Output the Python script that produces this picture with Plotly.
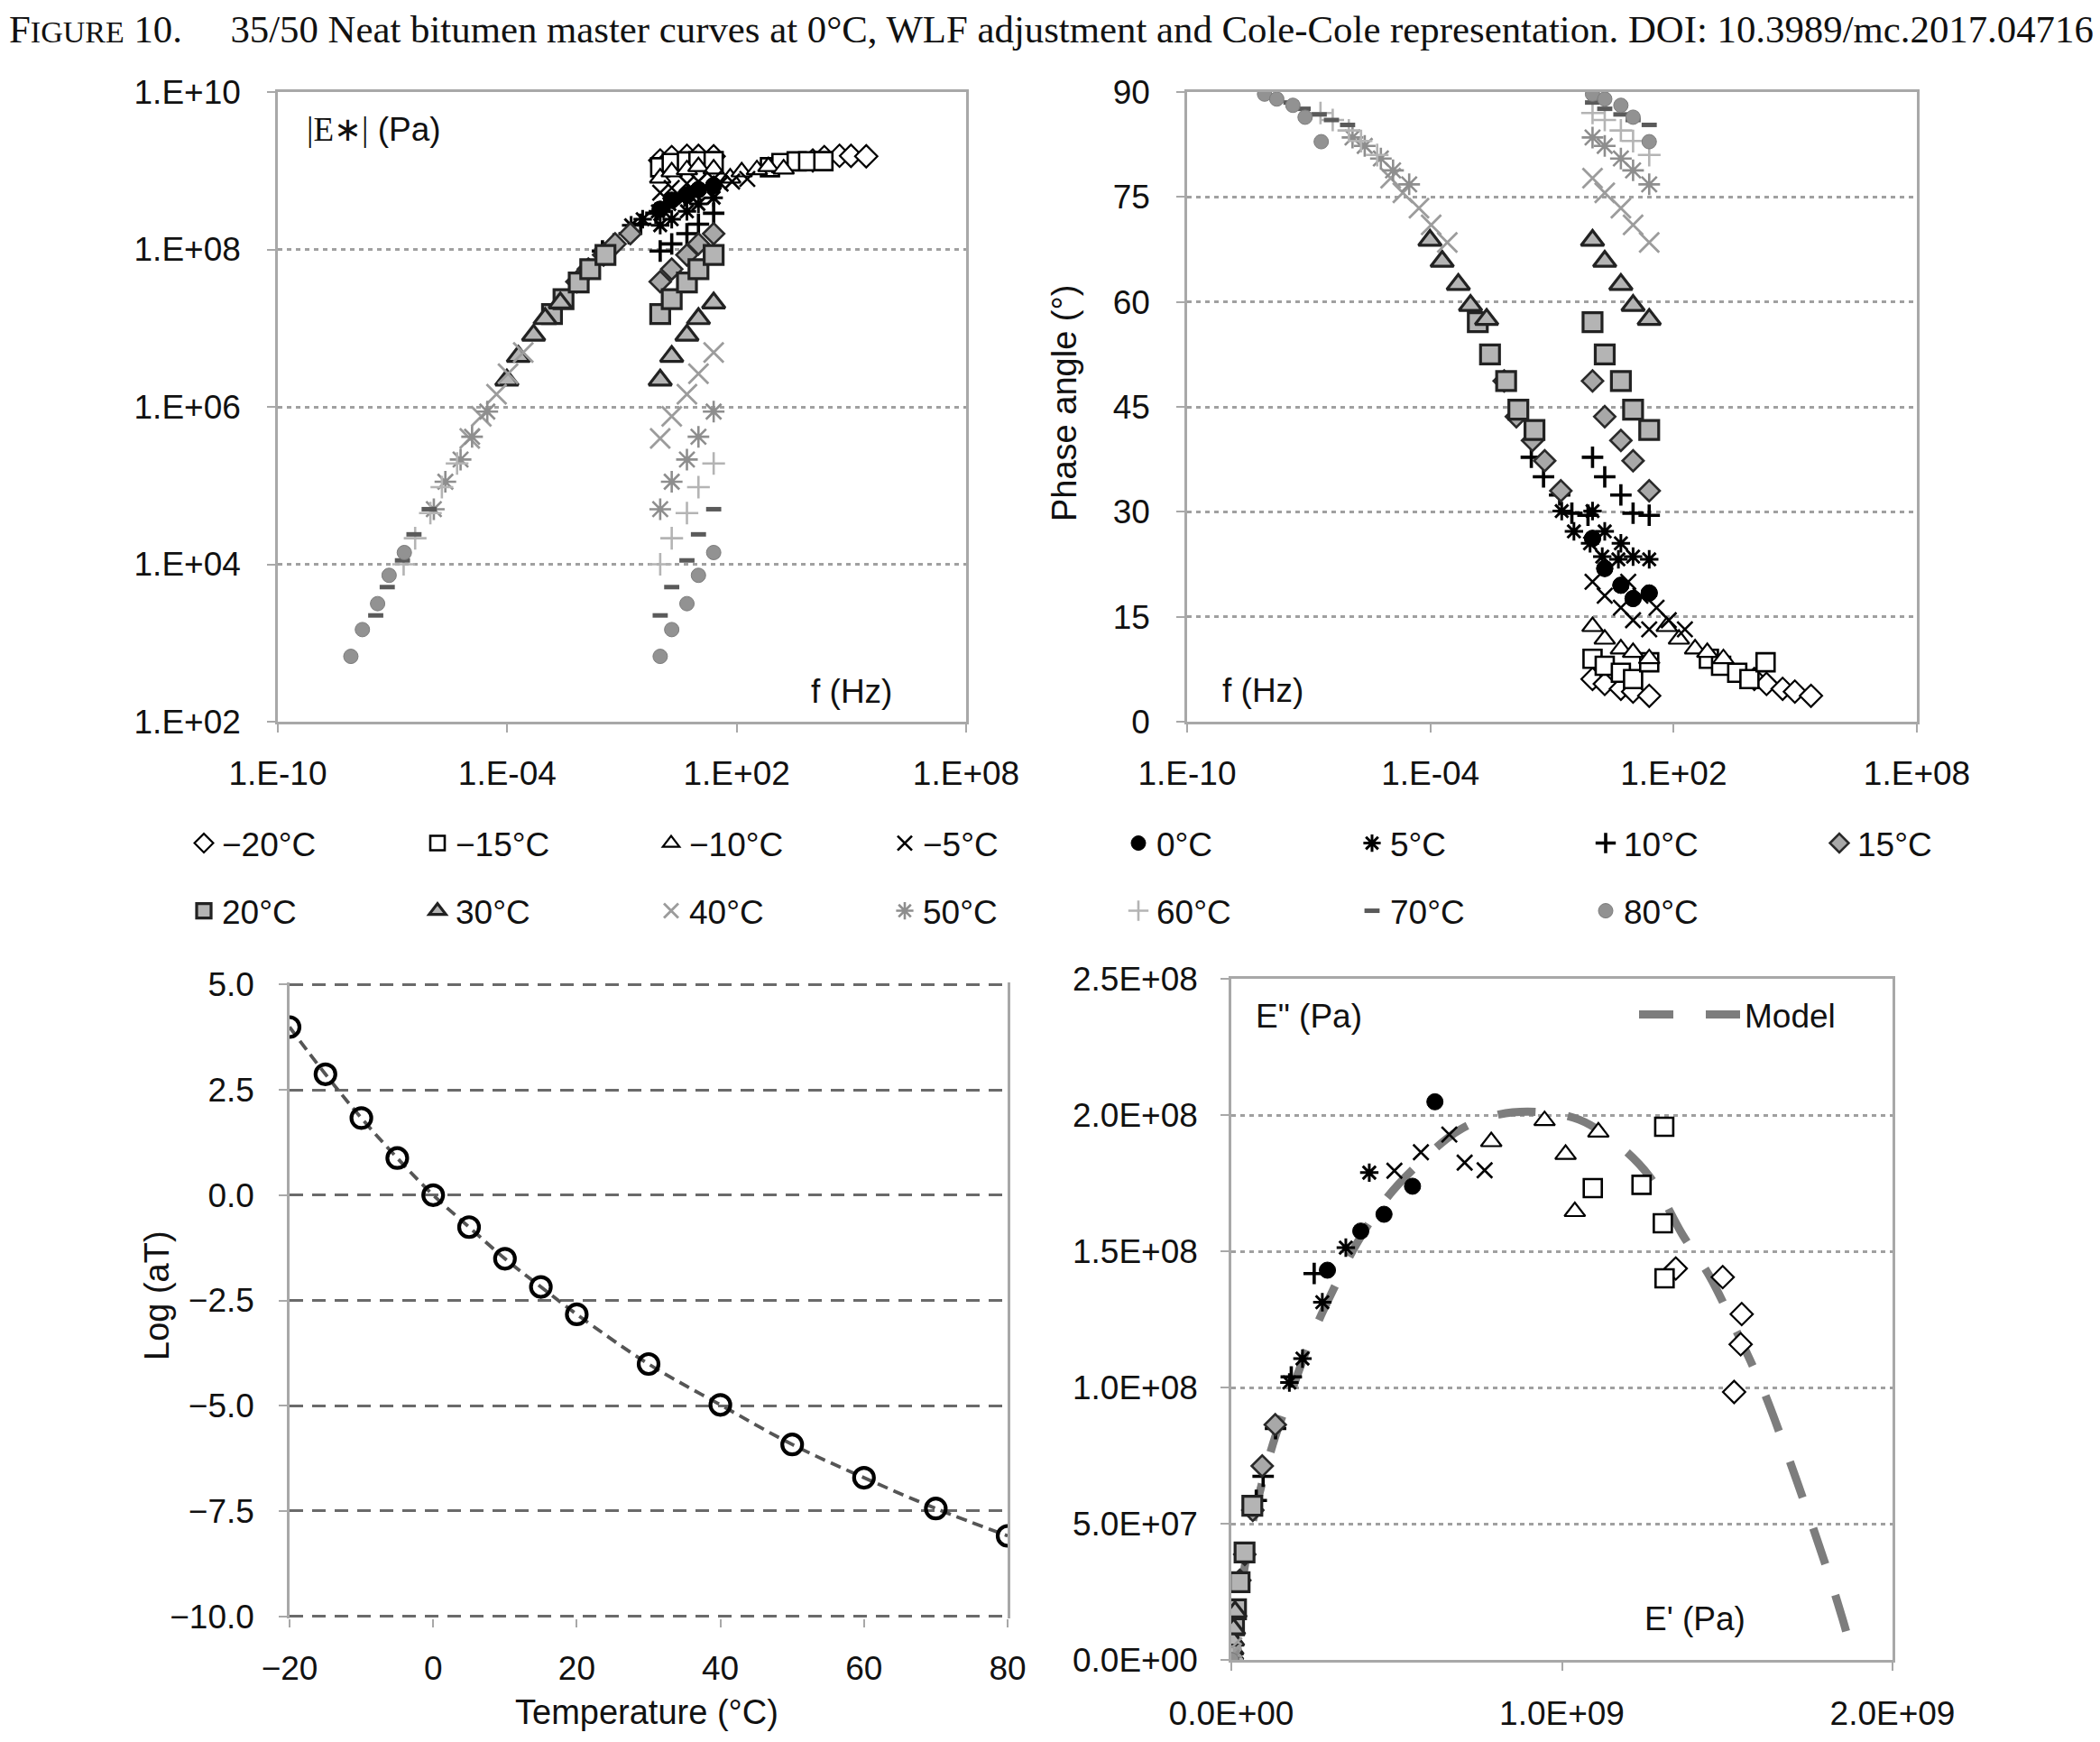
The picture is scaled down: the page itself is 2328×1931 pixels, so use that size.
import math
import plotly.graph_objects as go

# ---------------- data ----------------
temperatures_C = [-20, -15, -10, -5, 0, 5, 10, 15, 20, 30, 40, 50, 60, 70, 80]
legend_labels = ["−20°C", "−15°C", "−10°C", "−5°C", "0°C", "5°C", "10°C", "15°C",
                 "20°C", "30°C", "40°C", "50°C", "60°C", "70°C", "80°C"]
test_frequencies_hz = [1, 2, 5, 10, 25]

# WLF shift factors (log aT) at each temperature, reference 0°C
log_aT = [3.99, 2.87, 1.83, 0.88, 0.0, -0.76, -1.51, -2.18, -2.83,
          -4.01, -4.98, -5.92, -6.71, -7.44, -8.09]

# |E*| (Pa) at the test frequencies, one list per temperature
modulus_m20 = [1.352e9, 1.493e9, 1.549e9, 1.545e9, 1.524e9]
modulus_m15 = [1.107e9, 1.253e9, 1.315e9, 1.318e9, 1.324e9]
modulus_m10 = [8.09e8, 9.68e8, 1.028e9, 1.127e9, 1.052e9]
modulus_m05 = [5.25e8, 6.03e8, 6.87e8, 7.29e8, 7.87e8]
modulus_p00 = [3.24e8, 4.22e8, 4.90e8, 5.75e8, 6.49e8]
modulus_p05 = [2.03e8, 2.42e8, 3.05e8, 3.78e8, 4.54e8]
modulus_p10 = [9.55e7, 1.175e8, 1.585e8, 2.09e8, 2.88e8]
modulus_p15 = [3.89e7, 5.62e7, 8.51e7, 1.175e8, 1.585e8]
modulus_p20 = [1.51e7, 2.34e7, 3.80e7, 5.62e7, 8.51e7]
modulus_p30 = [2.19e6, 4.37e6, 8.13e6, 1.32e7, 2.09e7]
modulus_p40 = [3.98e5, 7.59e5, 1.45e6, 2.63e6, 4.90e6]
modulus_p50 = [5.01e4, 1.12e5, 2.14e5, 4.17e5, 8.71e5]
modulus_p60 = [1.00e4, 2.14e4, 4.47e4, 9.55e4, 1.91e5]
modulus_p70 = [2.24e3, 5.13e3, 1.12e4, 2.40e4, 5.01e4]
modulus_p80 = [676, 1.48e3, 3.16e3, 7.24e3, 1.41e4]

# phase angle (°) at the test frequencies, one list per temperature
phase_m20 = [6.1, 5.4, 4.7, 4.3, 3.7]
phase_m15 = [9.0, 8.0, 7.0, 6.1, 8.5]
phase_m10 = [13.6, 11.8, 10.4, 9.9, 9.0]
phase_m05 = [20.0, 18.0, 16.3, 14.5, 13.2]
phase_p00 = [26.2, 21.9, 19.5, 17.6, 18.4]
phase_p05 = [30.1, 27.2, 25.5, 23.6, 23.2]
phase_p10 = [37.8, 35.0, 32.4, 29.8, 29.5]
phase_p15 = [48.7, 43.6, 40.2, 37.3, 33.0]
phase_p20 = [57.1, 52.5, 48.7, 44.6, 41.7]
phase_p30 = [68.8, 65.8, 62.5, 59.5, 57.5]
phase_p40 = [77.7, 75.6, 73.4, 71.0, 68.5]
phase_p50 = [83.5, 82.3, 80.5, 78.8, 76.8]
phase_p60 = [87.0, 86.0, 84.5, 83.0, 81.0]
phase_p70 = [88.5, 87.6, 86.8, 86.0, 85.3]
phase_p80 = [89.7, 89.0, 88.1, 86.4, 82.9]

# Cole-Cole model curve (E' and E'' in Pa)
model_storage_pa = [0.004e9, 0.020e9, 0.040e9, 0.065e9, 0.125e9, 0.185e9, 0.246e9,
                    0.306e9, 0.377e9, 0.468e9, 0.569e9, 0.690e9, 0.810e9, 0.931e9,
                    1.052e9, 1.163e9, 1.264e9, 1.365e9, 1.446e9, 1.526e9, 1.607e9,
                    1.677e9, 1.748e9, 1.808e9, 1.849e9, 1.875e9]
model_loss_pa = [0.001e8, 0.169e8, 0.338e8, 0.508e8, 0.789e8, 0.996e8, 1.194e8,
                 1.353e8, 1.523e8, 1.692e8, 1.823e8, 1.945e8, 2.002e8, 2.011e8,
                 1.983e8, 1.898e8, 1.776e8, 1.560e8, 1.410e8, 1.212e8, 0.996e8,
                 0.771e8, 0.526e8, 0.310e8, 0.150e8, 0.038e8]

# tick labels
freq_tickvals = [1e-10, 1e-4, 1e2, 1e8]
freq_ticktext = ["1.E-10", "1.E-04", "1.E+02", "1.E+08"]
mod_tickvals = [1e2, 1e4, 1e6, 1e8, 1e10]
mod_ticktext = ["1.E+02", "1.E+04", "1.E+06", "1.E+08", "1.E+10"]
storage_tickvals = [0, 1e9, 2e9]
storage_ticktext = ["0.0E+00", "1.0E+09", "2.0E+09"]
loss_tickvals = [0, 5e7, 1e8, 1.5e8, 2e8, 2.5e8]
loss_ticktext = ["0.0E+00", "5.0E+07", "1.0E+08", "1.5E+08", "2.0E+08", "2.5E+08"]

modulus_sets = [modulus_m20, modulus_m15, modulus_m10, modulus_m05, modulus_p00,
                modulus_p05, modulus_p10, modulus_p15, modulus_p20, modulus_p30,
                modulus_p40, modulus_p50, modulus_p60, modulus_p70, modulus_p80]
phase_sets = [phase_m20, phase_m15, phase_m10, phase_m05, phase_p00,
              phase_p05, phase_p10, phase_p15, phase_p20, phase_p30,
              phase_p40, phase_p50, phase_p60, phase_p70, phase_p80]

# ---------------- styles ----------------
# (symbol, fill, line colour, line width, size)
styles = [
    ("diamond", "white", "black", 2.2, 19),
    ("square", "white", "black", 2.6, 20),
    ("triangle-up", "white", "black", 2.2, 20),
    ("x-thin", "black", "black", 2.6, 17),
    ("circle", "black", "black", 1, 18),
    ("asterisk", "black", "black", 3.0, 17),
    ("cross-thin", "black", "black", 3.6, 17),
    ("diamond", "#a8a8a8", "#2a2a2a", 2.6, 18),
    ("square", "#b4b4b4", "#222222", 3.2, 21),
    ("triangle-up", "#b4b4b4", "#222222", 3.2, 22),
    ("x-thin", "#9c9c9c", "#9c9c9c", 2.8, 22),
    ("asterisk", "#8e8e8e", "#8e8e8e", 2.6, 20),
    ("cross-thin", "#b4b4b4", "#b4b4b4", 2.6, 18),
    ("line-ew", "#5a5a5a", "#5a5a5a", 5, 12),
    ("circle", "#929292", "#7c7c7c", 1, 16),
]

# the page body has an 8 px margin; the figure fills the rest of the window
OFF = 8
W, H = 2328 - 2 * OFF, 1931 - 2 * OFF
FONT = "Liberation Sans, Arial, sans-serif"
SERIF = "Liberation Serif, Times New Roman, serif"
FRAME = "#a8a8a8"


def fx(p):
    return (p - OFF) / W


def fy(p):
    return 1 - (p - OFF) / H


def marker_of(i):
    sym, fill, lc, lw, size = styles[i]
    return dict(symbol=sym, color=fill, size=size, line=dict(color=lc, width=lw))


fig = go.Figure()

for i, T in enumerate(temperatures_C):
    shift = 10 ** log_aT[i]
    x_all = list(test_frequencies_hz) + [f * shift for f in test_frequencies_hz]
    e_all = list(modulus_sets[i]) + list(modulus_sets[i])
    p_all = list(phase_sets[i]) + list(phase_sets[i])
    leg = "legend" if i < 8 else "legend2"
    fig.add_trace(go.Scatter(x=x_all, y=e_all, mode="markers", name=legend_labels[i],
                             marker=marker_of(i), xaxis="x", yaxis="y",
                             legend=leg, showlegend=True, hoverinfo="skip"))
    fig.add_trace(go.Scatter(x=x_all, y=p_all, mode="markers", name=legend_labels[i],
                             marker=marker_of(i), xaxis="x2", yaxis="y2",
                             showlegend=False, hoverinfo="skip"))

# WLF shift factor
fig.add_trace(go.Scatter(x=temperatures_C, y=log_aT, mode="lines+markers",
                         line=dict(color="#555555", width=3.8, dash="12px,7px", shape="spline"),
                         marker=dict(symbol="circle-open", size=22, color="black",
                                     line=dict(color="black", width=4.2)),
                         xaxis="x3", yaxis="y3", showlegend=False, hoverinfo="skip"))

# Cole-Cole model
fig.add_trace(go.Scatter(x=model_storage_pa, y=model_loss_pa, mode="lines",
                         line=dict(color="#7d7d7d", width=9, dash="42px,36px", shape="spline"),
                         xaxis="x4", yaxis="y4", showlegend=False, hoverinfo="skip"))
fig.add_trace(go.Scatter(x=[None], y=[None], mode="lines", name="Model",
                         line=dict(color="#7d7d7d", width=9, dash="38px,36px"),
                         xaxis="x4", yaxis="y4", legend="legend3", showlegend=True))

# Cole-Cole data
for i, T in enumerate(temperatures_C):
    e1 = [m * math.cos(math.radians(p)) for m, p in zip(modulus_sets[i], phase_sets[i])]
    e2 = [m * math.sin(math.radians(p)) for m, p in zip(modulus_sets[i], phase_sets[i])]
    fig.add_trace(go.Scatter(x=e1, y=e2, mode="markers", name=legend_labels[i],
                             marker=marker_of(i), xaxis="x4", yaxis="y4",
                             showlegend=False, hoverinfo="skip"))

tick_font = dict(family=FONT, size=37, color="#111111")
dot_grid = dict(showgrid=True, gridcolor="#a0a0a0", gridwidth=2.5, griddash="5px,5px")
frame = dict(showline=True, linecolor=FRAME, linewidth=2.5, mirror=True)
common = dict(ticks="outside", ticklen=9, tickwidth=2, tickcolor=FRAME,
              automargin=False, zeroline=False, tickfont=tick_font)

fig.update_layout(
    width=W, height=H,
    margin=dict(l=0, r=0, t=0, b=0, pad=0, autoexpand=False),
    paper_bgcolor="white", plot_bgcolor="white",
    font=dict(family=FONT, color="#111111"),
    xaxis=dict(domain=[fx(308), fx(1071)], anchor="y", type="log", range=[-10, 8],
               tickvals=freq_tickvals, ticktext=freq_ticktext, showgrid=False,
               ticklabelstandoff=14, **frame, **common),
    yaxis=dict(domain=[fy(800), fy(102)], anchor="x", type="log", range=[2, 10],
               tickvals=mod_tickvals, ticktext=mod_ticktext,
               ticklabelstandoff=22, **dot_grid, **frame, **common),
    xaxis2=dict(domain=[fx(1316), fx(2125)], anchor="y2", type="log", range=[-10, 8],
                tickvals=freq_tickvals, ticktext=freq_ticktext, showgrid=False,
                ticklabelstandoff=14, **frame, **common),
    yaxis2=dict(domain=[fy(800), fy(102)], anchor="x2", range=[0, 90], tick0=0, dtick=15,
                ticklabelstandoff=22, **dot_grid, **frame, **common),
    xaxis3=dict(domain=[fx(321), fx(1117)], anchor="y3", range=[-20, 80], tick0=-20, dtick=20,
                showgrid=False, showline=False, ticklabelstandoff=14, **common),
    yaxis3=dict(domain=[fy(1794), fy(1089)], anchor="x3", range=[-10.05, 5.05], tick0=-10,
                dtick=2.5, tickformat=".1f", ticklabelstandoff=20,
                showgrid=True, gridcolor="#6a6a6a", gridwidth=3.2, griddash="15px,10px",
                **frame, **common),
    xaxis4=dict(domain=[fx(1365), fx(2098)], anchor="y4", range=[0, 2e9],
                tickvals=storage_tickvals, ticktext=storage_ticktext, showgrid=False,
                ticklabelstandoff=16, **frame, **common),
    yaxis4=dict(domain=[fy(1840), fy(1085)], anchor="x4", range=[0, 2.5e8],
                tickvals=loss_tickvals, ticktext=loss_ticktext,
                ticklabelstandoff=18, **dot_grid, **frame, **common),
    legend=dict(orientation="h", x=fx(206), xanchor="left", y=fy(935), yanchor="middle",
                entrywidth=214, entrywidthmode="pixels", itemsizing="trace",
                font=dict(family=FONT, size=37, color="#111111"), bgcolor="rgba(0,0,0,0)"),
    legend2=dict(orientation="h", x=fx(206), xanchor="left", y=fy(1010), yanchor="middle",
                 entrywidth=214, entrywidthmode="pixels", itemsizing="trace",
                 font=dict(family=FONT, size=37, color="#111111"), bgcolor="rgba(0,0,0,0)"),
    legend3=dict(orientation="h", x=fx(1812), xanchor="left", y=fy(1125), yanchor="middle",
                 itemwidth=112, font=dict(family=FONT, size=37, color="#111111"),
                 bgcolor="rgba(0,0,0,0)"),
)

nb = "\u00a0"
annotations = [
    dict(text="F<span style='font-size:34px'>IGURE</span> 10." + nb * 5 +
              "35/50 Neat bitumen master curves at 0°C, WLF adjustment and Cole-Cole "
              "representation. DOI: 10.3989/mc.2017.04716",
         x=0, y=fy(33), xanchor="left", yanchor="middle",
         font=dict(family=SERIF, size=42.8, color="#111111")),
    dict(text="<span style='font-family:Liberation Serif'>|E∗|</span> (Pa)",
         x=fx(338), y=fy(143), xanchor="left", yanchor="middle",
         font=dict(family=FONT, size=37, color="#111111")),
    dict(text="f (Hz)", x=fx(991), y=fy(767), xanchor="right", yanchor="middle",
         font=dict(family=FONT, size=37, color="#111111")),
    dict(text="f (Hz)", x=fx(1353), y=fy(765), xanchor="left", yanchor="middle",
         font=dict(family=FONT, size=37, color="#111111")),
    dict(text="Phase angle (°)", x=fx(1180), y=fy(447), xanchor="center", yanchor="middle",
         textangle=-90, font=dict(family=FONT, size=38, color="#111111")),
    dict(text="Log (aT)", x=fx(174), y=fy(1436), xanchor="center", yanchor="middle",
         textangle=-90, font=dict(family=FONT, size=38, color="#111111")),
    dict(text="Temperature (°C)", x=fx(717), y=fy(1921), xanchor="center", yanchor="bottom",
         font=dict(family=FONT, size=38, color="#111111")),
    dict(text="E\" (Pa)", x=fx(1390), y=fy(1126), xanchor="left", yanchor="middle",
         font=dict(family=FONT, size=37, color="#111111")),
    dict(text="E' (Pa)", x=fx(1821), y=fy(1794), xanchor="left", yanchor="middle",
         font=dict(family=FONT, size=37, color="#111111")),
]
for a in annotations:
    a.update(xref="paper", yref="paper", showarrow=False)
fig.update_layout(annotations=annotations)

fig.write_html("out.html")
